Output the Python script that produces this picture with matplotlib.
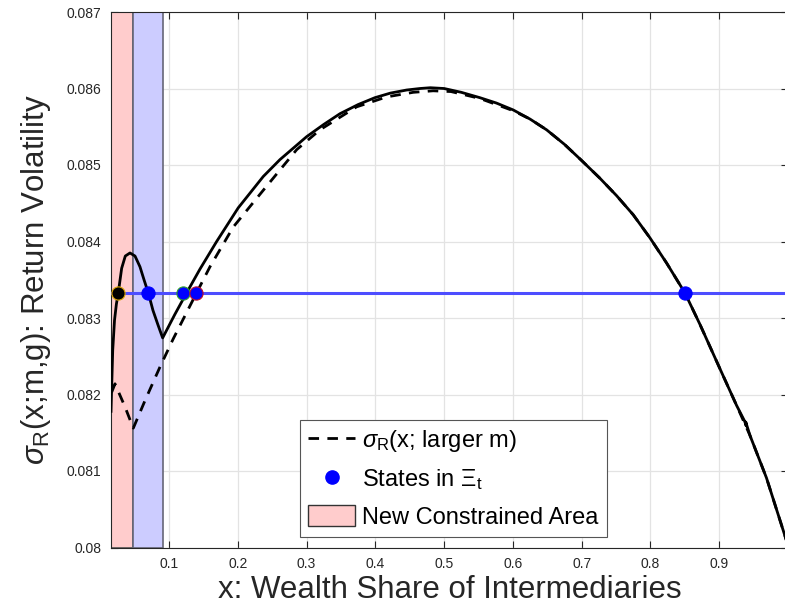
"""Return volatility sigma_R(x) vs wealth share of intermediaries,
with the constrained areas and the states in Xi_t."""

import matplotlib.pyplot as plt
from matplotlib.patches import Patch
from matplotlib.lines import Line2D

plt.rcParams['font.family'] = ['Liberation Sans', 'DejaVu Sans']
plt.rcParams['mathtext.fontset'] = 'custom'
plt.rcParams['mathtext.rm'] = 'Liberation Sans'
plt.rcParams['mathtext.it'] = 'Liberation Sans:italic'

# sigma_R(x; m, g) -- solid line
x_solid = [0.0157, 0.0182, 0.0208, 0.0235, 0.0263, 0.0312, 0.0365, 0.0433,
           0.0506, 0.0578, 0.0637, 0.0702, 0.0767, 0.0840, 0.0908, 0.1087,
           0.1251, 0.1451, 0.1693, 0.2007, 0.2371, 0.2613, 0.3001, 0.3250,
           0.3485, 0.3750, 0.3994, 0.4220, 0.4455, 0.4650, 0.4800, 0.5000,
           0.5250, 0.5520, 0.5760, 0.6004, 0.6250, 0.6490, 0.6750, 0.6998,
           0.7262, 0.7507, 0.7749, 0.7991, 0.8234, 0.8500, 0.8718, 0.9009,
           0.9251, 0.9370, 0.9392, 0.9386, 0.9445, 0.9687, 0.9953, 1.0000]
y_solid = [0.08178, 0.08258, 0.08297, 0.08318, 0.08333, 0.08365, 0.08381, 0.08385,
           0.08381, 0.08367, 0.08350, 0.08332, 0.08310, 0.08291, 0.08274, 0.08305,
           0.08332, 0.08364, 0.08400, 0.08444, 0.08485, 0.08507, 0.08537, 0.08553,
           0.08567, 0.08579, 0.08588, 0.08594, 0.08598, 0.08600, 0.08601, 0.08600,
           0.08595, 0.08588, 0.08581, 0.08572, 0.08560, 0.08546, 0.08527, 0.08506,
           0.08483, 0.08460, 0.08435, 0.08405, 0.08372, 0.08333, 0.08292, 0.08234,
           0.08186, 0.08165, 0.08159, 0.08164, 0.08147, 0.08091, 0.08016, 0.08002]

# sigma_R(x; larger m) -- dashed line
x_dash = [0.0167, 0.0215, 0.0273, 0.0360, 0.0481, 0.0651, 0.0869, 0.1063,
          0.1402, 0.1596, 0.1935, 0.2371, 0.2856, 0.3195, 0.3728, 0.4164,
          0.4551, 0.4841, 0.5100, 0.5520, 0.6004, 0.6250, 0.6490, 0.6750,
          0.6998, 0.7262, 0.7507, 0.7749, 0.7991, 0.8234, 0.8500, 0.8718,
          0.9009, 0.9251, 0.9445, 0.9687, 0.9953, 1.0000]
y_dash = [0.08203, 0.08214, 0.08202, 0.08184, 0.08156, 0.08192, 0.08236, 0.08273,
          0.08333, 0.08367, 0.08419, 0.08467, 0.08520, 0.08546, 0.08576, 0.08589,
          0.08595, 0.08597, 0.08596, 0.08587, 0.08571, 0.08560, 0.08546, 0.08527,
          0.08506, 0.08483, 0.08460, 0.08435, 0.08405, 0.08372, 0.08333, 0.08292,
          0.08234, 0.08186, 0.08147, 0.08091, 0.08016, 0.08002]

# states in Xi_t
x_states = [0.0263, 0.070, 0.120, 0.140, 0.850]
sigma_bar = 0.08333
state_face = ['black', 'blue', 'blue', 'blue', 'blue']
state_edge = ['#d9a400', 'blue', '#2e9e2e', '#c0102a', 'blue']

# shaded regions
red_area = (0.0, 0.048)
blue_area = (0.048, 0.091)

xticks = [0.1, 0.2, 0.3, 0.4, 0.5, 0.6, 0.7, 0.8, 0.9, 1.0]
xticklabels = ['0.1', '0.2', '0.3', '0.4', '0.5', '0.6', '0.7', '0.8', '0.9', '1']
yticks = [0.080, 0.081, 0.082, 0.083, 0.084, 0.085, 0.086, 0.087]
yticklabels = ['0.08', '0.081', '0.082', '0.083', '0.084', '0.085', '0.086', '0.087']

fig = plt.figure(figsize=(7.85, 6.16), dpi=100)
ax = fig.add_axes([111 / 785, 68.5 / 616, 677 / 785, 535.5 / 616])

ax.axvspan(*red_area, facecolor='#ffcccc', edgecolor='#555555', lw=1.2, zorder=1)
ax.axvspan(*blue_area, facecolor='#ccccff', edgecolor='#666677', lw=1.2, zorder=1)

ax.plot(x_dash, y_dash, color='black', lw=2.0, ls=(0, (3.8, 3.0)), zorder=3)
ax.plot(x_solid, y_solid, color='black', lw=2.0, zorder=3)
ax.axhline(sigma_bar, color='#4d4dff', lw=2.2, zorder=4)
for xs, fc, ec in zip(x_states, state_face, state_edge):
    ax.plot(xs, sigma_bar, 'o', ms=9.5, mfc=fc, mec=ec, mew=0.8, zorder=5)

ax.set_xlim(0.0157, 1.0)
ax.set_ylim(0.080, 0.087)
ax.set_xticks(xticks)
ax.set_xticklabels(xticklabels)
ax.set_yticks(yticks)
ax.set_yticklabels(yticklabels)
ax.grid(True, color='#e3e3e3', lw=0.9)
ax.set_axisbelow(True)
ax.tick_params(direction='in', length=5, width=0.8, top=True, right=True,
               labelsize=10, colors='#262626', pad=7)
for sp in ax.spines.values():
    sp.set_color('#262626')
    sp.set_linewidth(0.8)

ax.set_xlabel('x: Wealth Share of Intermediaries', fontsize=22.5, color='#262626', labelpad=3)
ax.set_ylabel(r'$\sigma_{\rm R}$(x;m,g): Return Volatility', fontsize=22.5,
              color='#262626', labelpad=10)

handles = [Line2D([], [], color='black', lw=2.0, ls=(0, (3.8, 3.0))),
           Line2D([], [], ls='none', marker='o', ms=9.5, mfc='blue', mec='blue'),
           Patch(facecolor='#ffcccc', edgecolor='#333333', lw=1.0)]
labels = [r'$\sigma_{\rm R}$(x; larger m)', r'States in $\Xi_{\rm t}$',
          'New Constrained Area']
leg = ax.legend(handles, labels, loc='lower left', bbox_to_anchor=(0.279, 0.0196),
                borderaxespad=0, fontsize=17, fancybox=False, framealpha=1,
                edgecolor='#555555', handlelength=2.0, handleheight=1.0,
                handletextpad=0.3, labelspacing=0.55, borderpad=0.35)
leg.get_frame().set_linewidth(0.8)

fig.savefig('out.png', dpi=100)
